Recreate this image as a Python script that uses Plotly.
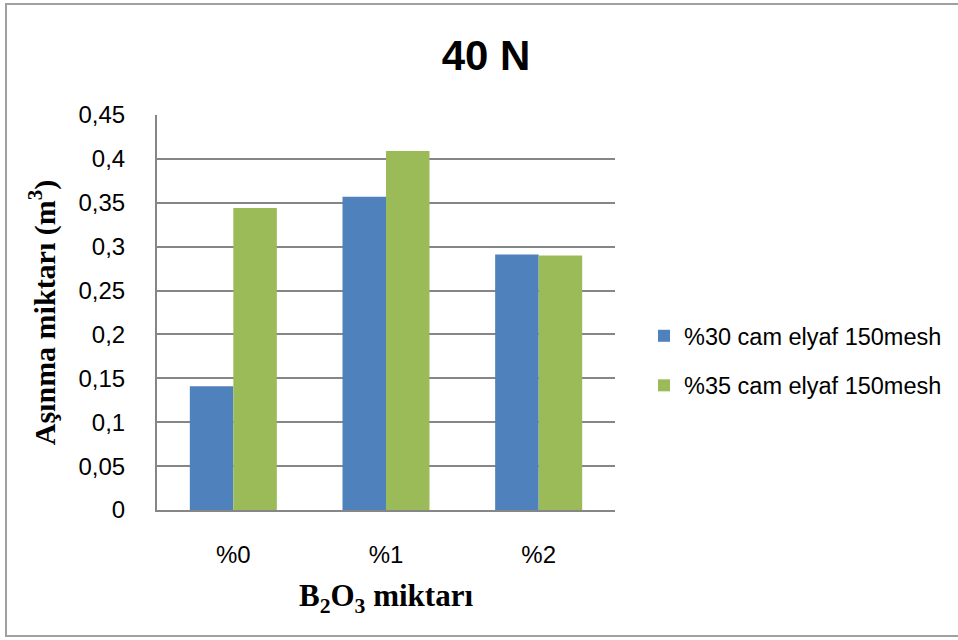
import plotly.graph_objects as go

categories = ["%0", "%1", "%2"]
series_names = ["%30 cam elyaf 150mesh", "%35 cam elyaf 150mesh"]
values_30 = [0.141, 0.357, 0.291]
values_35 = [0.344, 0.409, 0.290]
colors = ["#4F81BD", "#9BBB59"]
y_ticks = [0, 0.05, 0.1, 0.15, 0.2, 0.25, 0.3, 0.35, 0.4, 0.45]
y_tick_labels = ["0", "0,05", "0,1", "0,15", "0,2", "0,25", "0,3", "0,35", "0,4", "0,45"]

W, H = 958, 640
L, R, T, B = 157, 615, 115, 510

fig = go.Figure()
for name, vals, col in zip(series_names, [values_30, values_35], colors):
    fig.add_trace(go.Bar(x=categories, y=vals, name=name, marker_color=col,
                         marker_line_width=0, legendgroup=name))

def px_to_paper_x(px):
    return (px - L) / (R - L)

def px_to_paper_y(py):
    return (B - py) / (B - T)

fig.update_layout(
    width=W, height=H,
    margin=dict(l=L, r=W - R, t=T, b=H - B, autoexpand=False),
    paper_bgcolor="white", plot_bgcolor="white",
    font=dict(family="Liberation Sans, Arial, sans-serif", size=24, color="black"),
    title=dict(text="<b>40 N</b>", x=486 / W, xanchor="center", y=1 - 55 / H,
               yanchor="middle", yref="container", xref="container",
               font=dict(size=42, family="Liberation Sans, Arial, sans-serif")),
    barmode="group", bargap=0.43, bargroupgap=0.0,
    showlegend=True,
    legend=dict(x=px_to_paper_x(644), xanchor="left", y=px_to_paper_y(361), yanchor="middle",
                font=dict(size=23.5), tracegroupgap=16, itemwidth=30, bgcolor="rgba(0,0,0,0)"),
    xaxis=dict(showline=True, linecolor="#868686", linewidth=2, showgrid=False,
               ticks="", ticklabelstandoff=22, tickfont=dict(size=24),
               title=dict(text="<b>B<sub>2</sub>O<sub>3</sub> miktarı</b>", standoff=18,
                          font=dict(family="Liberation Serif, Times New Roman, serif", size=31))),
    yaxis=dict(range=[0, 0.45], tickvals=y_ticks, ticktext=y_tick_labels,
               showline=True, linecolor="#868686", linewidth=2,
               showgrid=True, gridcolor="#868686", gridwidth=2, zeroline=False,
               ticks="", ticklabelstandoff=25, tickfont=dict(size=24),
               title=dict(text="<b>Aşınma miktarı (m<sup>3</sup>)</b>", standoff=14,
                          font=dict(family="Liberation Serif, Times New Roman, serif", size=30))),
)

fig.add_shape(type="rect", xref="paper", yref="paper",
              x0=px_to_paper_x(6), x1=px_to_paper_x(970),
              y0=px_to_paper_y(636), y1=px_to_paper_y(4),
              line=dict(color="#A0A0A0", width=2), fillcolor="rgba(0,0,0,0)", layer="below")

fig.write_html("out.html", config={"displayModeBar": False},
               post_script="document.body.style.margin='0';document.body.style.overflow='hidden';")
